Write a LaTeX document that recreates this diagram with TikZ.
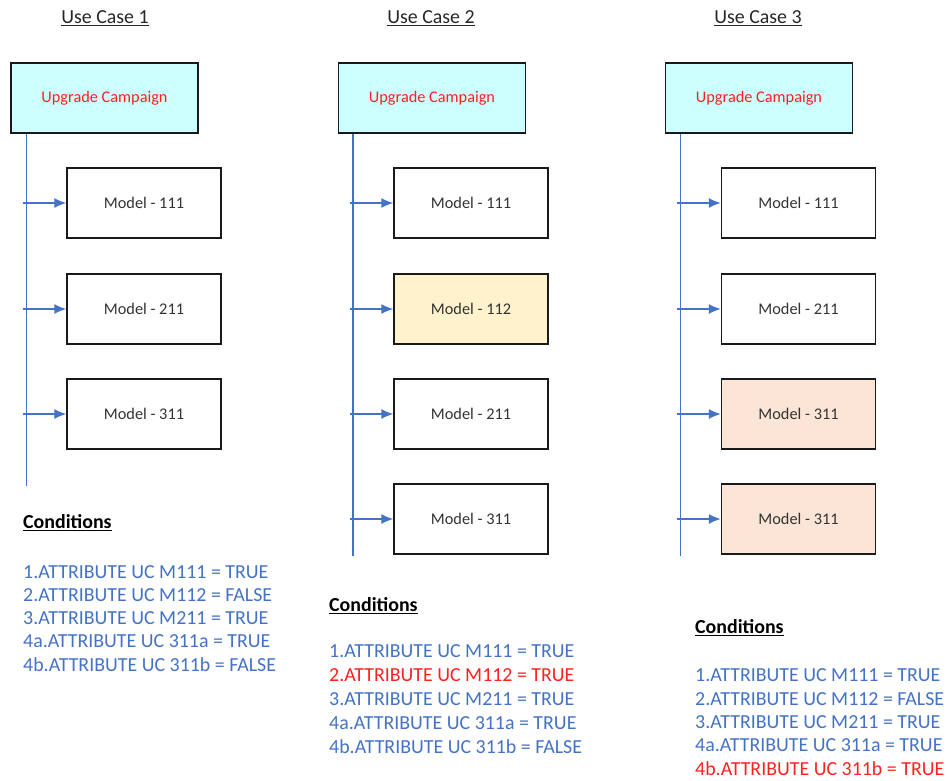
\documentclass[tikz,border=0pt]{standalone}
\usepackage{fontspec}
\setmainfont{Carlito}
\usetikzlibrary{arrows.meta,calc,positioning}
\definecolor{ucblue}{HTML}{4472C4}
\definecolor{ucred}{HTML}{FF2020}
\definecolor{campcyan}{HTML}{CCFFFF}
\definecolor{newyellow}{HTML}{FFF2CC}
\definecolor{dupsalmon}{HTML}{FBE5D6}
\definecolor{boxedge}{HTML}{1A1A1A}
\newcommand{\boxfont}{\fontsize{16.3}{19}\selectfont}
\newcommand{\condfont}{\fontsize{19.9}{23}\selectfont}
\tikzset{
    titlesty/.style={font=\condfont, text=black!85},
    campsty/.style={draw=boxedge, line width=1.4pt, fill=campcyan, text=ucred, rectangle,
                    minimum width=187pt, minimum height=70pt, font=\boxfont},
    modsty/.style={draw=boxedge, line width=1.4pt, fill=white, text=black!80, rectangle,
                   minimum width=154pt, minimum height=70pt, font=\boxfont},
    newsty/.style={modsty, fill=newyellow},
    dupsty/.style={modsty, fill=dupsalmon},
    trunksty/.style={draw=ucblue, line width=1.4pt},
    branchsty/.style={draw=ucblue, line width=1.4pt, -{Latex[length=12pt,width=10pt]}},
    headsty/.style={anchor=west, font=\condfont\bfseries, text=black, inner sep=0pt},
    condsty/.style={anchor=west, font=\condfont, text=ucblue, inner sep=0pt},
    badsty/.style={condsty, text=ucred},
}

\begin{document}
\begin{tikzpicture}[x=1pt, y=-1pt]
\useasboundingbox (0,0) rectangle (947,780);

% use case 1
\node[titlesty] (title1) at (105,18) {\underline{Use Case 1}};
\node[campsty] (camp1) at (104.5,98) {Upgrade Campaign};
\node[modsty] (m1a) at (144,203) {Model - 111};
\node[modsty] (m1b) at (144,309) {Model - 211};
\node[modsty] (m1c) at (144,414) {Model - 311};
\coordinate (top1) at ($(camp1.south west)+(16,0)$);
\coordinate (end1) at ($(top1)+(0,352)$);
\draw[trunksty] (top1) -- (end1);
\foreach \m in {m1a,m1b,m1c}
    \draw[branchsty] ($(top1 |- \m.west)+(-3,0)$) -- (\m.west);

\node[headsty] (head1) at (23,523) {\underline{Conditions}};
\node[condsty] (c1a) at (23,572) {1.ATTRIBUTE UC M111 = TRUE};
\node[condsty] (c1b) at (23,595) {2.ATTRIBUTE UC M112 = FALSE};
\node[condsty] (c1c) at (23,618) {3.ATTRIBUTE UC M211 = TRUE};
\node[condsty] (c1d) at (23,641) {4a.ATTRIBUTE UC 311a = TRUE};
\node[condsty] (c1e) at (23,665) {4b.ATTRIBUTE UC 311b = FALSE};

% use case 2
\node[titlesty] (title2) at (431,18) {\underline{Use Case 2}};
\node[campsty] (camp2) at (432,98) {Upgrade Campaign};
\node[modsty] (m2a) at (471,203) {Model - 111};
\node[newsty] (m2b) at (471,309) {Model - 112};
\node[modsty] (m2c) at (471,414) {Model - 211};
\node[modsty] (m2d) at (471,519) {Model - 311};
\coordinate (top2) at ($(camp2.south west)+(15,0)$);
\coordinate (end2) at ($(top2)+(0,422)$);
\draw[trunksty] (top2) -- (end2);
\foreach \m in {m2a,m2b,m2c,m2d}
    \draw[branchsty] ($(top2 |- \m.west)+(-3,0)$) -- (\m.west);

\node[headsty] (head2) at (329,606) {\underline{Conditions}};
\node[condsty] (c2a) at (329,651) {1.ATTRIBUTE UC M111 = TRUE};
\node[badsty] (c2b) at (329,675) {2.ATTRIBUTE UC M112 = TRUE};
\node[condsty] (c2c) at (329,699) {3.ATTRIBUTE UC M211 = TRUE};
\node[condsty] (c2d) at (329,723) {4a.ATTRIBUTE UC 311a = TRUE};
\node[condsty] (c2e) at (329,747) {4b.ATTRIBUTE UC 311b = FALSE};

% use case 3
\node[titlesty] (title3) at (758,18) {\underline{Use Case 3}};
\node[campsty] (camp3) at (759,98) {Upgrade Campaign};
\node[modsty] (m3a) at (798.5,203) {Model - 111};
\node[modsty] (m3b) at (798.5,309) {Model - 211};
\node[dupsty] (m3c) at (798.5,414) {Model - 311};
\node[dupsty] (m3d) at (798.5,519) {Model - 311};
\coordinate (top3) at ($(camp3.south west)+(15.5,0)$);
\coordinate (end3) at ($(top3)+(0,422)$);
\draw[trunksty] (top3) -- (end3);
\foreach \m in {m3a,m3b,m3c,m3d}
    \draw[branchsty] ($(top3 |- \m.west)+(-3,0)$) -- (\m.west);

\node[headsty] (head3) at (695,628) {\underline{Conditions}};
\node[condsty] (c3a) at (695,675) {1.ATTRIBUTE UC M111 = TRUE};
\node[condsty] (c3b) at (695,699) {2.ATTRIBUTE UC M112 = FALSE};
\node[condsty] (c3c) at (695,722) {3.ATTRIBUTE UC M211 = TRUE};
\node[condsty] (c3d) at (695,745) {4a.ATTRIBUTE UC 311a = TRUE};
\node[badsty] (c3e) at (695,769) {4b.ATTRIBUTE UC 311b = TRUE};
\end{tikzpicture}
\end{document}
